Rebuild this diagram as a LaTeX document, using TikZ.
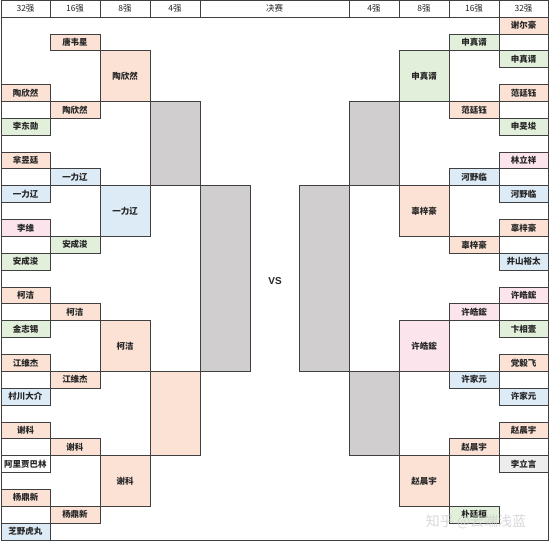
\documentclass[tikz,border=0pt]{standalone}
\usepackage{fontspec}
\newfontfamily\cjk{Noto Sans CJK SC}
\setsansfont{Liberation Sans}
\definecolor{pch}{HTML}{FBE2D5}
\definecolor{grn}{HTML}{E2EFDA}
\definecolor{blu}{HTML}{DDEBF7}
\definecolor{pnk}{HTML}{FCE4EC}
\definecolor{gry}{HTML}{D0CECE}
\definecolor{lgry}{HTML}{EDEDED}
\definecolor{wht}{HTML}{FFFFFF}
\definecolor{ln}{HTML}{404040}
\definecolor{txt}{HTML}{262626}
\tikzset{
  cellbox/.style={draw=ln, line width=0.7pt, inner sep=0pt, outer sep=0pt,
    font=\cjk\bfseries\fontsize{8.5}{9}\selectfont, text=txt},
  headcell/.style={draw=ln, line width=0.7pt, inner sep=0pt, outer sep=0pt,
    font=\cjk\fontsize{8.5}{9}\selectfont, text=txt}
}
\newcommand\cell[7]{%
  \pgfmathsetmacro\ya{17+#4*16.87}%
  \pgfmathsetmacro\yb{17+(#5+1)*16.87}%
  \pgfmathsetmacro\ww{#3-#2}%
  \pgfmathsetmacro\hh{\yb-\ya}%
  \pgfmathsetmacro\cx{(#2+#3)/2}%
  \pgfmathsetmacro\cy{(\ya+\yb)/2}%
  \node[cellbox, fill=#6, minimum width=\ww pt, minimum height=\hh pt] (#1) at (\cx,\cy) {#7};%
}
\newcommand\hcell[4]{%
  \pgfmathsetmacro\ww{#3-#2}%
  \pgfmathsetmacro\cx{(#2+#3)/2}%
  \node[headcell, minimum width=\ww pt, minimum height=17pt] (#1) at (\cx,8.5) {#4};%
}
\begin{document}
\begin{tikzpicture}[x=1pt,y=-1pt]
\useasboundingbox (0,0) rectangle (550,543);
\fill[white] (0,0) rectangle (550,543);
% header
\hcell{h1}{1}{50}{32强}
\hcell{h2}{50}{100}{16强}
\hcell{h3}{100}{150}{8强}
\hcell{h4}{150}{200}{4强}
\hcell{h5}{200}{349}{决赛}
\hcell{h6}{349}{399}{4强}
\hcell{h7}{399}{449}{8强}
\hcell{h8}{449}{499}{16强}
\hcell{h9}{499}{548}{32强}
% frame
\draw[ln, line width=0.8pt] (1,0) rectangle (548,540);
% ---------- left side ----------
\cell{l16a}{50}{100}{1}{1}{pch}{唐韦星}
\cell{l8a}{100}{150}{2}{4}{pch}{陶欣然}
\cell{l32a}{1}{50}{4}{4}{pch}{陶欣然}
\cell{l16b}{50}{100}{5}{5}{pch}{陶欣然}
\cell{l32b}{1}{50}{6}{6}{grn}{李东勋}
\cell{l4a}{150}{200}{5}{9}{gry}{}
\cell{l32c}{1}{50}{8}{8}{pch}{芈昱廷}
\cell{l16c}{50}{100}{9}{9}{blu}{一力辽}
\cell{l32d}{1}{50}{10}{10}{blu}{一力辽}
\cell{l8b}{100}{150}{10}{12}{blu}{一力辽}
\cell{l32e}{1}{50}{12}{12}{pnk}{李维}
\cell{l16d}{50}{100}{13}{13}{grn}{安成浚}
\cell{l32f}{1}{50}{14}{14}{grn}{安成浚}
\cell{lsf}{200}{250}{10}{20}{gry}{}
\cell{l32g}{1}{50}{16}{16}{pch}{柯洁}
\cell{l16e}{50}{100}{17}{17}{pch}{柯洁}
\cell{l32h}{1}{50}{18}{18}{grn}{金志锡}
\cell{l8c}{100}{150}{18}{20}{pch}{柯洁}
\cell{l32i}{1}{50}{20}{20}{pch}{江维杰}
\cell{l16f}{50}{100}{21}{21}{pch}{江维杰}
\cell{l32j}{1}{50}{22}{22}{blu}{村川大介}
\cell{l4b}{150}{200}{21}{25}{pch}{}
\cell{l32k}{1}{50}{24}{24}{pch}{谢科}
\cell{l16g}{50}{100}{25}{25}{pch}{谢科}
\cell{l32l}{1}{50}{26}{26}{wht}{阿里贾巴林}
\cell{l8d}{100}{150}{26}{28}{pch}{谢科}
\cell{l32m}{1}{50}{28}{28}{pch}{杨鼎新}
\cell{l16h}{50}{100}{29}{29}{pch}{杨鼎新}
\cell{l32n}{1}{50}{30}{30}{blu}{芝野虎丸}
% ---------- right side ----------
\cell{r32a}{499}{548}{0}{0}{pch}{谢尔豪}
\cell{r16a}{449}{499}{1}{1}{grn}{申真谞}
\cell{r32b}{499}{548}{2}{2}{grn}{申真谞}
\cell{r8a}{399}{449}{2}{4}{grn}{申真谞}
\cell{r32c}{499}{548}{4}{4}{pch}{范廷钰}
\cell{r16b}{449}{499}{5}{5}{pch}{范廷钰}
\cell{r32d}{499}{548}{6}{6}{grn}{申旻埈}
\cell{r4a}{349}{399}{5}{9}{gry}{}
\cell{r32e}{499}{548}{8}{8}{pnk}{林立祥}
\cell{r16c}{449}{499}{9}{9}{blu}{河野临}
\cell{r32f}{499}{548}{10}{10}{blu}{河野临}
\cell{r8b}{399}{449}{10}{12}{pch}{辜梓豪}
\cell{r32g}{499}{548}{12}{12}{pch}{辜梓豪}
\cell{r16d}{449}{499}{13}{13}{pch}{辜梓豪}
\cell{r32h}{499}{548}{14}{14}{blu}{井山裕太}
\cell{rsf}{299}{349}{10}{20}{gry}{}
\cell{r32i}{499}{548}{16}{16}{pnk}{许皓鋐}
\cell{r16e}{449}{499}{17}{17}{pnk}{许皓鋐}
\cell{r32j}{499}{548}{18}{18}{grn}{卞相壹}
\cell{r8c}{399}{449}{18}{20}{pnk}{许皓鋐}
\cell{r32k}{499}{548}{20}{20}{pch}{党毅飞}
\cell{r16f}{449}{499}{21}{21}{blu}{许家元}
\cell{r32l}{499}{548}{22}{22}{blu}{许家元}
\cell{r4b}{349}{399}{21}{25}{gry}{}
\cell{r32m}{499}{548}{24}{24}{pch}{赵晨宇}
\cell{r16g}{449}{499}{25}{25}{pch}{赵晨宇}
\cell{r32n}{499}{548}{26}{26}{lgry}{李立言}
\cell{r8d}{399}{449}{26}{28}{pch}{赵晨宇}
\cell{r16h}{449}{499}{29}{29}{grn}{朴廷桓}
% VS
\node[font=\sffamily\bfseries\fontsize{10}{12}\selectfont, text=txt] (vs) at (275,281) {VS};
% watermark
\node[font=\cjk\fontsize{14}{16}\selectfont, text=gray!40, opacity=0.75] (wm) at (476,522) {知乎 @云端浅蓝};
\end{tikzpicture}
\end{document}
